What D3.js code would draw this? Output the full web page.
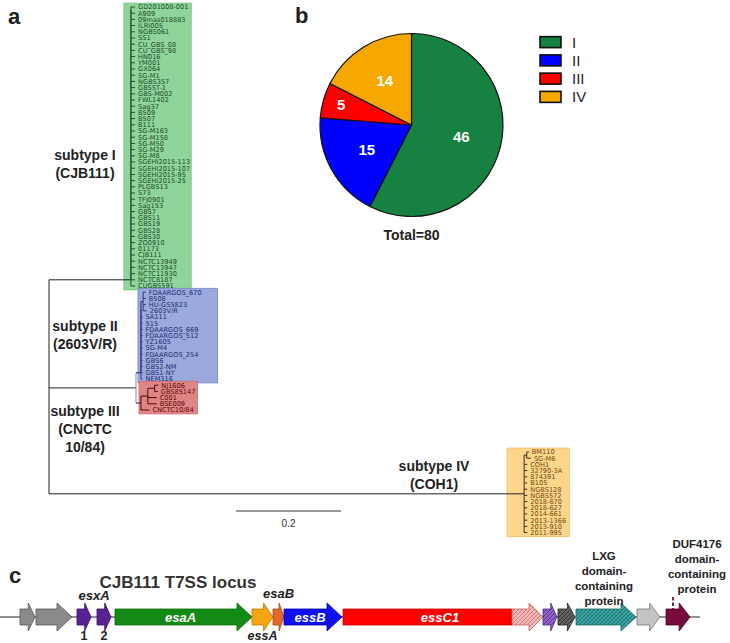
<!DOCTYPE html>
<html><head><meta charset="utf-8">
<script src="https://cdn.jsdelivr.net/npm/d3@7"></script>
<style>body{margin:0;background:#fff}svg{display:block}</style>
</head><body>
<svg id="fig" width="730" height="643"></svg>
<script>
// ---------------- DATA ----------------
const subtypeI = ["GD201008-001","A909","09mas018883","ILRI005","NGBS061","SS1","CU_GBS_08","CU_GBS_98","HN016","YM001","GX064","SG-M1","NGBS357","GBSST-1","GBS-M002","FWL1402","Sag37","B509","B507","B111","SG-M163","SG-M158","SG-M50","SG-M29","SG-M8","SGEHI2015-113","SGEHI2015-107","SGEHI2015-95","SGEHI2015-25","PLGBS13","S73","TFJ0901","Sag153","GBS7","GBS11","GBS19","GBS28","GBS30","ZQ0910","01173","CJB111","NCTC13949","NCTC13947","NCTC11930","NCTC8187","CUGBS591"];
const subtypeII = ["FDAARGOS_670","B508","HU-GS5823","2603V/R","SA111","515","FDAARGOS_669","FDAARGOS_512","YZ1605","SG-M4","FDAARGOS_254","GBS6","GBS2-NM","GBS1-NY","NEM316"];
const subtypeIII = ["NJ1606","GBS85147","C001","BSE009","CNCTC10/84"];
const subtypeIV = ["BM110","SG-M6","COH1","32790-3A","874391","B105","NGBS128","NGBS572","2018-670","2018-627","2014-661","2013-1366","2013-910","2011-995"];

// branch lengths (substitutions/site) read from the tree
const depthI = 0.156, tipLenI = 0.008;
const depthIIandIII = 0.1657, stemII = 0.0095, stemIII = 0.0095;
const subLenII = 0.004, tipLenIIsub = [0.005, 0.005, 0.005, 0.007], tipLenII = 0.003;
const lenIIIa = 0.013, lenIIIb = 0.013, tipLenIIIb = [0.007, 0.006], tipLenIIIa = [0.017, 0.017], tipLenCNCTC = 0.016;
const depthIV = 0.905, subLenIV = 0.005, tipLenIVsub = [0.004, 0.008], tipLenIV = 0.006;
const scaleBarValue = 0.2;

const subtypeNames = ["I","II","III","IV"];
const subtypeCounts = [46, 15, 5, 14];
const subtypeLabels = [["subtype I","(CJB111)"],["subtype II","(2603V/R)"],["subtype III","(CNCTC","10/84)"],["subtype IV","(COH1)"]];

// gene locus (bp)
const geneClass = ["flank","flank","esxA","esxA","esaA","essA","esaB","essB","essC1","essC1tail","hypPurple","hypGray","LXG","flank2","DUF"];
const geneStart = [1000,1800,3850,4850,5750,12600,13650,14200,17150,25600,27150,27900,28800,31850,33300];
const geneEnd   = [1750,3600,4550,5550,12600,13650,14200,17100,25600,27150,27850,28750,31800,33000,34500];
const locusLength = 35000;
const insideLabels = [{gene:4, text:"esaA"},{gene:7, text:"essB"},{gene:8, text:"essC1", to:9}];

// ---------------- STYLE ----------------
const svg = d3.select("#fig");
const FONT = "'Liberation Sans', Arial, Helvetica, sans-serif";
const cladeStyle = {
  I:   {fill:"#8fd49b", stroke:"#6fc37e", text:"#1b4a26", line:"#24502e", padL:7, padR:1},
  II:  {fill:"#9aa9de", stroke:"#7386d2", text:"#1f2b6e", line:"#2b3a85", padL:3, padR:16},
  III: {fill:"#e08585", stroke:"#d26a6a", text:"#5a0808", line:"#4a0808", padL:2, padR:2},
  IV:  {fill:"#fdd58b", stroke:"#f2c05c", text:"#6b4a0c", line:"#3a3020", padL:17, padR:3}
};
const pieColors = ["#168141","#0000ff","#ff0000","#f6a800"];
const geneStyle = {
  flank:{fill:"#8a8a8a", stroke:"#555"}, esxA:{fill:"#5a2290", stroke:"#3c1066"},
  esaA:{fill:"#138a13", stroke:"#0c6a0c"}, essA:{fill:"#f5a412", stroke:"#c07a00"},
  esaB:{fill:"#e2692a", stroke:"#a84a18"}, essB:{fill:"#1010f5", stroke:"#0000a0"},
  essC1:{fill:"#ff0000", stroke:"#c00000", noHead:true},
  essC1tail:{fill:"url(#hPink)", stroke:"#c06060"}, hypPurple:{fill:"url(#hPurple)", stroke:"#4a2a80"},
  hypGray:{fill:"url(#hGray)", stroke:"#222"}, LXG:{fill:"url(#hTeal)", stroke:"#1a6a66"},
  flank2:{fill:"#c4c4c4", stroke:"#777"}, DUF:{fill:"#780a3c", stroke:"#4a0020"}
};

const defs = svg.append("defs");
[["hPink","#f7c4c4","#e06060"],["hPurple","#9a6ad0","#4a2280"],["hGray","#6a6a6a","#222"],["hTeal","#3aa8a4","#17615e"]].forEach(([id,bg,fg])=>{
  const p = defs.append("pattern").attr("id",id).attr("patternUnits","userSpaceOnUse").attr("width",4).attr("height",4);
  p.append("rect").attr("width",4).attr("height",4).attr("fill",bg);
  p.append("path").attr("d","M0,4L4,0M-1,1L1,-1M3,5L5,3").attr("stroke",fg).attr("stroke-width",0.8);
  p.append("path").attr("d","M0,0L4,4").attr("stroke",fg).attr("stroke-width",0.5).attr("opacity",0.6);
});

// ---------------- PANEL A: TREE ----------------
const leaf = (name, len, clade) => ({name, len, clade});
function chain(items, clade){ let n = items[0]; for(let i=1;i<items.length;i++) n = {len:0, clade, children:[n, items[i]]}; return n; }

const cI = chain(subtypeI.map(n=>leaf(n, tipLenI, "I")), "I"); cI.len = depthI; cI.cladeRoot = "I";
const subII = {len:subLenII, clade:"II", children: subtypeII.slice(0,4).map((n,i)=>leaf(n, tipLenIIsub[i], "II"))};
const cII = chain([subII, ...subtypeII.slice(4).map(n=>leaf(n, tipLenII, "II"))], "II"); cII.len = stemII; cII.cladeRoot = "II";
const bIII = {len:lenIIIb, clade:"III", children: subtypeIII.slice(0,2).map((n,i)=>leaf(n, tipLenIIIb[i], "III"))};
const aIII = {len:lenIIIa, clade:"III", children: [bIII, ...subtypeIII.slice(2,4).map((n,i)=>leaf(n, tipLenIIIa[i], "III"))]};
const cIII = {len:stemIII, clade:"III", cladeRoot:"III", children:[aIII, leaf(subtypeIII[4], tipLenCNCTC, "III")]};
const subIV = {len:subLenIV, clade:"IV", children: subtypeIV.slice(0,2).map((n,i)=>leaf(n, tipLenIVsub[i], "IV"))};
const cIV = {len:depthIV, clade:"IV", cladeRoot:"IV", children:[subIV, ...subtypeIV.slice(2).map(n=>leaf(n, tipLenIV, "IV"))]};
const treeData = {len:0, clade:"root", children:[cI, {len:depthIIandIII, clade:"mid", children:[cII, cIII]}, cIV]};

const xTree = d3.scaleLinear().domain([0,1]).range([49, 574]);
const h = d3.hierarchy(treeData);
const leaves = h.leaves();
const ivGapSlots = 5.77;   // layout gap before subtype IV block
const ySlot = d3.scaleLinear().domain([0, 1]).range([7, 13.2]);
leaves.forEach((l,i)=> l.y = ySlot(i + (l.data.clade === "IV" ? ivGapSlots : 0)));
h.eachAfter(n => { if(n.children) n.y = (n.children[0].y + n.children[n.children.length-1].y)/2; });
h.eachBefore(n => { n.dist = (n.parent ? n.parent.dist : 0) + n.data.len; n.x = xTree(n.dist); });

const gBox = svg.append("g"), gTree = svg.append("g"), gLab = svg.append("g");
leaves.forEach(l => {
  l.label = gLab.append("text").attr("x", l.x + 3).attr("y", l.y + 2.4)
    .attr("font-family","'DejaVu Sans', sans-serif").attr("font-size",6.6)
    .attr("fill", cladeStyle[l.data.clade].text).text(l.data.name);
  l.right = l.x + 3 + l.label.node().getComputedTextLength();
});
const cladeNodes = {};
h.descendants().forEach(n => { if(n.data.cladeRoot) cladeNodes[n.data.cladeRoot] = n; });
const half = (ySlot(1)-ySlot(0))/2;
subtypeNames.forEach(k => {
  const n = cladeNodes[k], lv = n.leaves(), st = cladeStyle[k];
  const right = d3.max(lv, l=>l.right) + st.padR;
  const y0 = lv[0].y - half - 0.8, y1 = lv[lv.length-1].y + half + 0.8;
  gBox.append("rect").attr("x", n.x - st.padL).attr("y", y0).attr("width", right - n.x + st.padL).attr("height", y1-y0)
    .attr("fill", st.fill).attr("stroke", st.stroke).attr("stroke-width",0.8);
});
function lineColor(n){ const c = n.data.clade; return cladeStyle[c] ? cladeStyle[c].line : "#222"; }
h.descendants().forEach(n => {
  if(n.parent){
    const c = (n.data.cladeRoot || n.data.clade === "mid") ? "#222" : lineColor(n);
    gTree.append("line").attr("x1", n.parent.x).attr("x2", n.x).attr("y1", n.y).attr("y2", n.y)
      .attr("stroke", c).attr("stroke-width", 1);
  }
  if(n.children){
    const c = n.data.clade === "mid" ? "#8c8c8c" : lineColor(n);
    gTree.append("line").attr("x1", n.x).attr("x2", n.x).attr("y1", n.children[0].y).attr("y2", n.children[n.children.length-1].y)
      .attr("stroke", c).attr("stroke-width", 1);
  }
});
const subtypeLabelPos = [{x:85,y:160},{x:85,y:331},{x:85,y:416},{x:434,y:471}];
subtypeLabels.forEach((lines,i)=>{
  lines.forEach((t,j)=> svg.append("text").attr("x", subtypeLabelPos[i].x).attr("y", subtypeLabelPos[i].y + j*18)
    .attr("text-anchor","middle").attr("font-family",FONT).attr("font-weight","bold").attr("font-size",14)
    .attr("fill","#222").text(t));
});
const sbX = 236, sbY = 511;
svg.append("line").attr("x1", sbX).attr("x2", sbX + xTree(scaleBarValue) - xTree(0)).attr("y1", sbY).attr("y2", sbY).attr("stroke","#333").attr("stroke-width",1);
svg.append("text").attr("x", sbX + (xTree(scaleBarValue)-xTree(0))/2).attr("y", sbY + 16).attr("text-anchor","middle")
  .attr("font-family",FONT).attr("font-size",10).attr("fill","#333").text(String(scaleBarValue));

[["a",8,24],["b",295,23],["c",9,583]].forEach(([t,x,y])=> svg.append("text").attr("x",x).attr("y",y)
  .attr("font-family",FONT).attr("font-weight","bold").attr("font-size",22).attr("fill","#222").text(t));

// ---------------- PANEL B: PIE ----------------
const pcx = 411.5, pcy = 125, R = 91.5;
const pie = d3.pie().sort(null).value(d=>d)(subtypeCounts);
const arc = d3.arc().innerRadius(0).outerRadius(R);
const gPie = svg.append("g").attr("transform",`translate(${pcx},${pcy})`);
gPie.selectAll("path").data(pie).join("path").attr("d", arc).attr("fill",(d,i)=>pieColors[i])
  .attr("stroke","#111").attr("stroke-width",1.2).attr("stroke-linejoin","round");
gPie.selectAll("text").data(pie).join("text")
  .attr("transform", d => { const r = (d.endAngle-d.startAngle) < 0.5 ? R*0.8 : R*0.56; const a = (d.startAngle+d.endAngle)/2; return `translate(${r*Math.sin(a)},${-r*Math.cos(a)+5})`; })
  .attr("text-anchor","middle").attr("font-family",FONT).attr("font-weight","bold").attr("font-size",15).attr("fill","#fff")
  .text(d=>d.data);
svg.append("text").attr("x", pcx).attr("y", 240).attr("text-anchor","middle").attr("font-family",FONT).attr("font-weight","bold")
  .attr("font-size",14).attr("fill","#222").text("Total=" + d3.sum(subtypeCounts));
const legY = d3.scaleBand().domain(subtypeNames).range([33, 106]);
subtypeNames.forEach((k,i)=>{
  svg.append("rect").attr("x",540).attr("y", legY(k)+ (legY.bandwidth()-11)/2).attr("width",21).attr("height",11)
    .attr("fill",pieColors[i]).attr("stroke","#111").attr("stroke-width",1.6);
  svg.append("text").attr("x",572).attr("y", legY(k)+legY.bandwidth()/2+5.5).attr("font-family",FONT).attr("font-size",15)
    .attr("fill","#222").text(k);
});

// ---------------- PANEL C: LOCUS ----------------
const xg = d3.scaleLinear().domain([0, locusLength]).range([0, 700]);
const yc = 617, bodyH = 8, headH = 14;
svg.append("text").attr("x", 178).attr("y", 588).attr("text-anchor","middle").attr("font-family",FONT).attr("font-weight","bold")
  .attr("font-size",17).attr("fill","#333").text("CJB111 T7SS locus");
svg.append("line").attr("x1", xg(0)).attr("x2", xg(locusLength)).attr("y1", yc).attr("y2", yc).attr("stroke","#222").attr("stroke-width",1);
function arrowPath(x0, x1, noHead){
  if(noHead) return `M${x0},${yc-bodyH}H${x1}V${yc+bodyH}H${x0}Z`;
  const hl = Math.min(15, 0.45*(x1-x0));
  return `M${x0},${yc-bodyH}H${x1-hl}V${yc-headH}L${x1},${yc}L${x1-hl},${yc+headH}V${yc+bodyH}H${x0}Z`;
}
// DUF marker (dashed) drawn before genes so the arrow covers its end
svg.append("line").attr("x1", xg(geneStart[14])+7).attr("x2", xg(geneStart[14])+7).attr("y1", 597).attr("y2", yc-bodyH)
  .attr("stroke","#780a3c").attr("stroke-width",1.8).attr("stroke-dasharray","3.5,2");
geneClass.forEach((c,i)=>{
  const st = geneStyle[c];
  svg.append("path").attr("d", arrowPath(xg(geneStart[i]), xg(geneEnd[i]), st.noHead))
    .attr("fill", st.fill).attr("stroke", st.stroke).attr("stroke-width",0.8).attr("stroke-linejoin","miter");
});
insideLabels.forEach(d=>{
  const x0 = xg(geneStart[d.gene]), x1 = xg(geneEnd[d.to != null ? d.to : d.gene]);
  svg.append("text").attr("x", (x0+x1)/2 - 3).attr("y", yc+5).attr("text-anchor","middle").attr("font-family",FONT)
    .attr("font-weight","bold").attr("font-style","italic").attr("font-size",13).attr("fill","#fff").text(d.text);
});
const mid = i => (xg(geneStart[i]) + xg(geneEnd[i]))/2;
const outText = (t,x,y,opt={}) => svg.append("text").attr("x",x).attr("y",y).attr("text-anchor","middle").attr("font-family",FONT)
  .attr("font-weight","bold").attr("font-style", opt.italic ? "italic":"normal").attr("font-size", opt.size||13).attr("fill","#222").text(t);
outText("esxA", (mid(2)+mid(3))/2, 600, {italic:true});
outText("1", mid(2), 640, {size:12.5});
outText("2", mid(3), 640, {size:12.5});
outText("esaB", mid(6), 598, {italic:true});
outText("essA", mid(5), 640, {italic:true, size:12.5});
["LXG","domain-","containing","protein"].forEach((t,j)=> outText(t, mid(12)-2, 560 + j*15, {size:11.5}));
["DUF4176","domain-","containing","protein"].forEach((t,j)=> outText(t, mid(14)+19, 548 + j*15, {size:11.5}));
</script>
</body></html>
